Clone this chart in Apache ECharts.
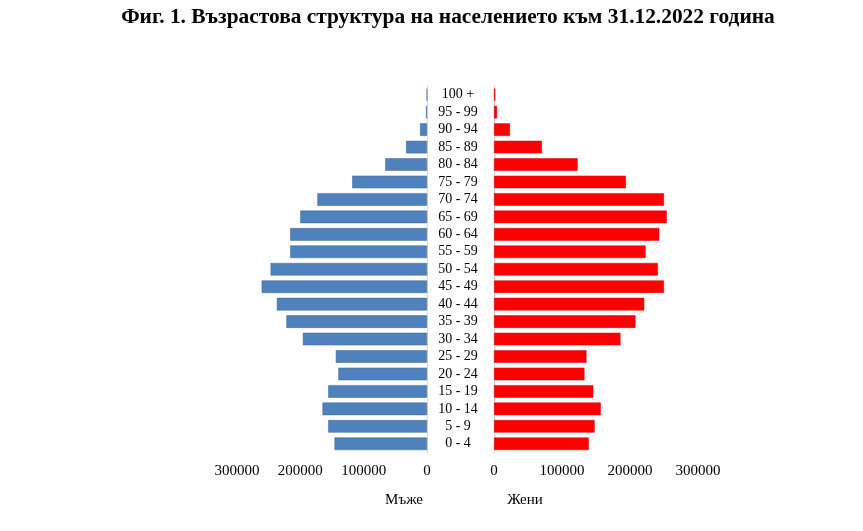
<!DOCTYPE html>
<html>
<head>
<meta charset="utf-8">
<script src="https://cdn.jsdelivr.net/npm/echarts@6/dist/echarts.min.js"></script>
<style>
html, body { margin: 0; padding: 0; background: #fff; }
#main { width: 863px; height: 531px; }
</style>
</head>
<body>
<div id="main"></div>
<script>
// възрастови групи, отдолу нагоре
var ageGroups = ['0 - 4', '5 - 9', '10 - 14', '15 - 19', '20 - 24', '25 - 29', '30 - 34',
    '35 - 39', '40 - 44', '45 - 49', '50 - 54', '55 - 59', '60 - 64', '65 - 69',
    '70 - 74', '75 - 79', '80 - 84', '85 - 89', '90 - 94', '95 - 99', '100 +']

var men = [146000, 156000, 165000, 156000, 140000, 144000, 196000,
    222000, 237000, 261000, 247000, 216000, 216000, 200000,
    173000, 118000, 66000, 33000, 11000, 1500, 300]

var women = [139500, 148000, 157000, 146000, 133000, 136000, 186000,
    208000, 221000, 250000, 241000, 223000, 243000, 254000,
    250000, 194000, 123000, 70500, 23500, 4500, 2000]

var axisTicks = { min: 0, max: 300000, interval: 100000 }

var font = 'Liberation Serif, Times New Roman, serif'

function plain(v) {
    return String(v)
}

var myChart = echarts.init(document.getElementById('main'))

var option = {
    animation: false,
    backgroundColor: '#fff',
    title: [{
        text: 'Фиг. 1. Възрастова структура на населението към 31.12.2022 година',
        left: 443,
        top: 2,
        textAlign: 'center',
        textStyle: { fontFamily: font, fontWeight: 'bold', fontSize: 21.4, color: '#000' }
    }, {
        text: 'Мъже',
        left: 399,
        top: 488,
        textAlign: 'center',
        textStyle: { fontFamily: font, fontWeight: 'normal', fontSize: 15, color: '#000' }
    }, {
        text: 'Жени',
        left: 520,
        top: 488,
        textAlign: 'center',
        textStyle: { fontFamily: font, fontWeight: 'normal', fontSize: 15, color: '#000' }
    }],
    grid: [
        { left: 237, width: 190, top: 86, height: 366.5 },
        { left: 494, width: 204, top: 86, height: 366.5 }
    ],
    xAxis: [{
        gridIndex: 0,
        type: 'value',
        inverse: true,
        min: axisTicks.min,
        max: axisTicks.max,
        interval: axisTicks.interval,
        splitLine: { show: false },
        axisLine: { show: false },
        axisTick: { show: false },
        axisLabel: { fontFamily: font, fontSize: 15, color: '#000', margin: 11, formatter: plain }
    }, {
        gridIndex: 1,
        type: 'value',
        min: axisTicks.min,
        max: axisTicks.max,
        interval: axisTicks.interval,
        splitLine: { show: false },
        axisLine: { show: false },
        axisTick: { show: false },
        axisLabel: { fontFamily: font, fontSize: 15, color: '#000', margin: 11, formatter: plain }
    }],
    yAxis: [{
        gridIndex: 0,
        type: 'category',
        position: 'right',
        data: ageGroups,
        axisLine: { show: true, lineStyle: { color: '#d9d9d9', width: 1 } },
        axisTick: { show: false },
        axisLabel: { show: false }
    }, {
        gridIndex: 1,
        type: 'category',
        position: 'left',
        data: ageGroups,
        axisLine: { show: true, lineStyle: { color: '#d9d9d9', width: 1 } },
        axisTick: { show: false },
        axisLabel: {
            fontFamily: font,
            fontSize: 14,
            color: '#000',
            align: 'center',
            interval: 0,
            margin: 36
        }
    }],
    series: [{
        name: 'Мъже',
        type: 'bar',
        xAxisIndex: 0,
        yAxisIndex: 0,
        data: men,
        barCategoryGap: '28%',
        itemStyle: { color: '#4f81bd', borderColor: '#3d6698', borderWidth: 0.5 }
    }, {
        name: 'Жени',
        type: 'bar',
        xAxisIndex: 1,
        yAxisIndex: 1,
        data: women,
        barCategoryGap: '28%',
        itemStyle: { color: '#ff0000', borderColor: '#d40000', borderWidth: 0.5 }
    }]
}

myChart.setOption(option)
</script>
</body>
</html>
